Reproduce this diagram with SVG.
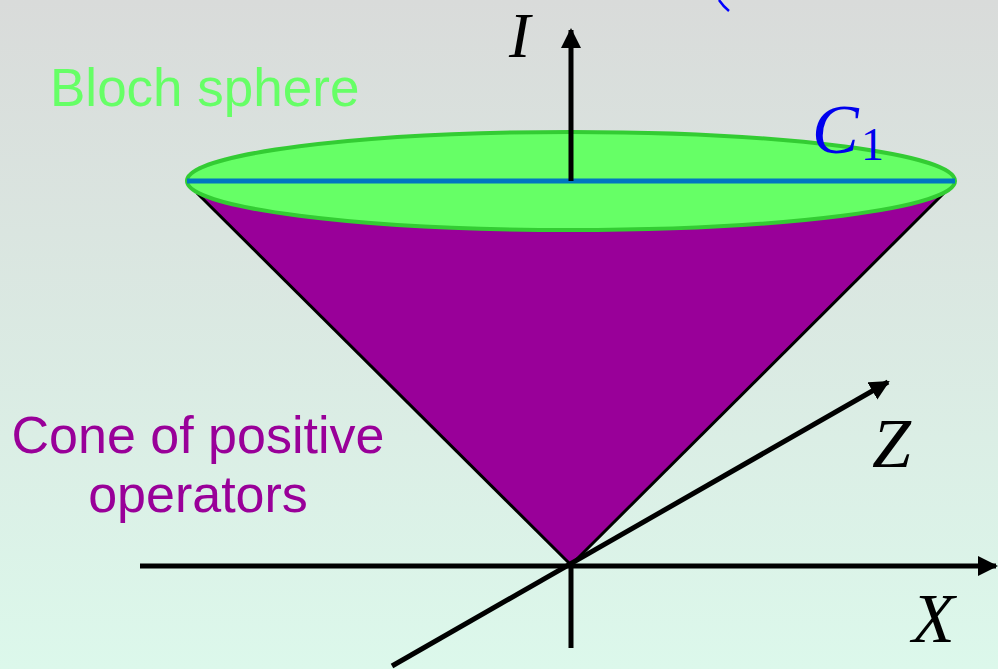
<svg xmlns="http://www.w3.org/2000/svg" width="998" height="669" viewBox="0 0 998 669">
<defs>
<linearGradient id="bg" x1="0" y1="0" x2="0" y2="1">
<stop offset="0" stop-color="#d9dbda"/>
<stop offset="1" stop-color="#dcf8eb"/>
</linearGradient>
<marker id="ah" viewBox="0 0 10 10" refX="9" refY="5" markerWidth="4" markerHeight="4" markerUnits="strokeWidth" orient="auto">
<path d="M0,0 L10,5 L0,10 Z" fill="#000"/>
</marker>
<style>
.axis{stroke:#000;stroke-width:5;fill:none}
.edge{stroke:#000;stroke-width:3;fill:none}
.math{font-family:"Liberation Serif","DejaVu Serif",serif;font-style:italic;fill:#000}
.lbl{font-family:"Liberation Sans",Arial,sans-serif}
</style>
</defs>
<rect width="998" height="669" fill="url(#bg)"/>
<path d="M719,0 Q723,6 729,11" stroke="#0000ff" stroke-width="2.5" fill="none"/>
<g id="cone">
<polygon points="198,194 571,565 942,194" fill="#990099"/>
<line class="edge" x1="197" y1="193" x2="571" y2="565"/>
<line class="edge" x1="944" y1="193" x2="571" y2="565"/>
</g>
<g id="bloch-sphere">
<ellipse cx="571" cy="181" rx="384" ry="49" fill="#66ff66" stroke="#33cc33" stroke-width="4"/>
<line x1="187" y1="181" x2="955" y2="181" stroke="#0077c0" stroke-width="5"/>
</g>
<g id="axes">
<line class="axis" x1="571" y1="181" x2="571" y2="30" marker-end="url(#ah)"/>
<line class="axis" x1="140" y1="566" x2="996" y2="566" marker-end="url(#ah)"/>
<line class="axis" x1="571" y1="566" x2="571" y2="648"/>
<line class="axis" x1="392" y1="666" x2="888" y2="382" marker-end="url(#ah)"/>
</g>
<g id="labels">
<text class="math" x="509" y="57" font-size="64">I</text>
<text class="math" x="872" y="467" font-size="70">Z</text>
<text class="math" x="912" y="642" font-size="70">X</text>
<text x="812" y="153" font-size="70" fill="#0000ee" font-family="Liberation Serif,DejaVu Serif,serif" font-style="italic">C</text>
<text x="861" y="160" font-size="46" fill="#0000ee" font-family="Liberation Serif,DejaVu Serif,serif">1</text>
<text class="lbl" x="50" y="106" font-size="53" fill="#66ff66">Bloch sphere</text>
<text class="lbl" x="198" y="453" font-size="52" fill="#990099" text-anchor="middle">Cone of positive</text>
<text class="lbl" x="198" y="512" font-size="52" fill="#990099" text-anchor="middle">operators</text>
</g>
</svg>
